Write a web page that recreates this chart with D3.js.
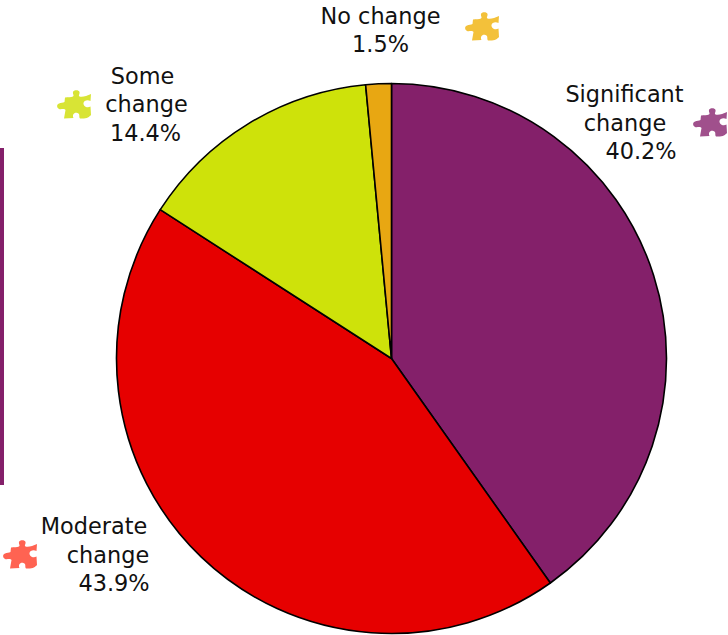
<!DOCTYPE html>
<html>
<head>
<meta charset="utf-8">
<script src="https://cdn.jsdelivr.net/npm/d3@7"></script>
<style>
  html, body { margin: 0; padding: 0; background: #fff; overflow: hidden; }
  text { font-family: "DejaVu Sans", sans-serif; font-size: 22.4px; fill: #111; }
</style>
</head>
<body>
<script>
// values as printed on the chart, clockwise from 12 o'clock
const categories = ["Significant change", "Moderate change", "Some change", "No change"];
const percents = [40.2, 43.9, 14.4, 1.5];
const sliceColors = ["#84206a", "#e60000", "#cee20a", "#e8a712"];
const iconColors = ["#a0508c", "#ff6352", "#d8e435", "#f3c13a"];
const labelLines = [
    ["Significant", "change", "40.2%"],
    ["Moderate", "change", "43.9%"],
    ["Some", "change", "14.4%"],
    ["No change", "1.5%"]
];

var width = 728;
var height = 635;
var cx = 391.5;
var cy = 358.5;
var radius = 275;

// where each label line sits: [centre x, baseline y]
var labelPos = [
    [[624.5, 102], [625, 131], [641, 159]],
    [[94, 534], [108, 563], [114, 591]],
    [[142.5, 84], [146.5, 112], [145.5, 141]],
    [[380.5, 24], [380.5, 52]]
];
// top left corner of each jigsaw piece
var iconPos = [[693, 107], [3, 539], [57, 89], [465, 11]];

// 34x30 jigsaw piece
var puzzle = "M8,8.5 C11,8 14,8.5 16,7.5 C17.5,6.5 15.5,5 16,3 C16.5,0.5 22,0.5 22.5,3 " +
    "C23,5 21,6.5 22.5,7.5 C25,8.5 30,7 34,5 L33.5,12 C31,10.5 27,11 26.5,14 " +
    "C26,17 30,19.5 33.5,17.5 L34,26 C32,28 30,30 23,29.5 C21.5,28 23.5,25 20.5,24 " +
    "C17,23 15,26 16.5,29 L7,29.5 L8.5,21 C7,19 4,21 2,20 C-0.5,18.5 -0.5,15.5 2,14.5 C4,13.5 6,14 7.5,13 Z";

var svg = d3.select("body").append("svg")
    .attr("width", width)
    .attr("height", height)
    .style("display", "block");

// purple rule on the left edge
svg.append("rect")
    .attr("x", 0)
    .attr("y", 148)
    .attr("width", 4)
    .attr("height", 337)
    .attr("fill", "#84206a");

var pie = d3.pie().sort(null).value(d => d);
var arc = d3.arc().innerRadius(0).outerRadius(radius);

svg.append("g")
    .attr("transform", "translate(" + cx + "," + cy + ")")
    .selectAll("path")
    .data(pie(percents))
    .enter().append("path")
        .attr("d", arc)
        .attr("fill", (d, i) => sliceColors[i])
        .attr("stroke", "#000")
        .attr("stroke-width", 1.6)
        .attr("stroke-linejoin", "round");

categories.forEach(function(name, i) {
    svg.append("path")
        .attr("class", "icon")
        .attr("d", puzzle)
        .attr("fill", iconColors[i])
        .attr("transform", "translate(" + iconPos[i][0] + "," + iconPos[i][1] + ")");

    var label = svg.append("text").attr("text-anchor", "middle");
    labelLines[i].forEach(function(line, j) {
        label.append("tspan")
            .attr("x", labelPos[i][j][0])
            .attr("y", labelPos[i][j][1])
            .text(line);
    });
});
</script>
</body>
</html>
